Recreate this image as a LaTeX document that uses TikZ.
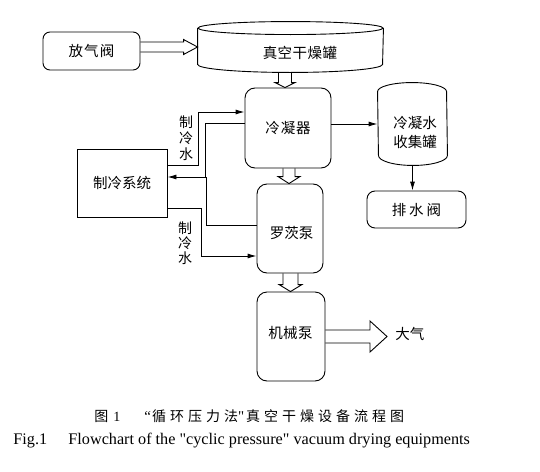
\documentclass[tikz,border=0pt]{standalone}
\usepackage{fontspec}
\setmainfont{Liberation Serif}[Ligatures=TeXOff]
\newfontfamily\cjk{Noto Sans CJK SC}
\usetikzlibrary{calc,arrows.meta}
\newcommand\ls[2]{\def\lsp{#1}\lsloop#2\relax\unskip}
\def\lsloop#1{\ifx\relax#1\else#1\hspace{\lsp}\expandafter\lsloop\fi}
\begin{document}
\begin{tikzpicture}[x=1pt,y=1pt,line width=0.9pt,
  box/.style={draw,rounded corners=10pt,inner sep=0pt},
  lab/.style={font=\cjk\fontsize{14.5}{19}\selectfont,inner sep=0pt},
  arr/.style={-{Latex[length=9pt,width=5pt]}},
  blk/.style n args={3}{to path={
    let \p1=(\tikztostart), \p2=(\tikztotarget),
        \n1={atan2(\y2-\y1,\x2-\x1)}, \n2={veclen(\x2-\x1,\y2-\y1)} in
    [shift={(\p1)},rotate=\n1]
    (0,-#1) -- (\n2-#3,-#1) -- (\n2-#3,-#2) -- (\n2,0) -- (\n2-#3,#2) -- (\n2-#3,#1) -- (0,#1)}}]
\useasboundingbox (0,0) rectangle (540,-471);
% boxes
\node[box,rounded corners=7pt,minimum width=97,minimum height=38,lab] (valve) at (91.5,-51) {\ls{1.2pt}{放气阀}};
\node[minimum width=185,minimum height=50,inner sep=0pt] (tank) at (290.5,-47) {};
\draw ($(tank.north)+(0,-6.5)$) ellipse [x radius=92.5,y radius=6.5];
\draw ($(tank.north west)+(0,-6.5)$) -- ($(tank.south west)+(0,8)$)
  arc[start angle=180,end angle=360,x radius=92.5,y radius=8] -- ($(tank.north east)+(0,-6.5)$);
\node[lab] (tanklab) at (300,-53) {\ls{0.5pt}{真空干燥罐}};
\node[box,minimum width=86,minimum height=80,lab] (cond) at (288,-128) {\ls{0.8pt}{冷凝器}};
\node[minimum width=69,minimum height=82,inner sep=0pt] (coll) at (412.5,-124) {};
\draw ($(coll.north west)+(0,-9)$) arc[start angle=180,end angle=0,x radius=34.5,y radius=9]
  -- ($(coll.south east)+(0,10)$) arc[start angle=0,end angle=-180,x radius=34.5,y radius=10] -- cycle;
\node[lab,align=center] (colllab) at (415,-132.5) {冷凝水\\收集罐};
\node[box,rounded corners=8pt,minimum width=99,minimum height=37,lab] (drain) at (416.5,-209.5) {\ls{3pt}{排水阀}};
\node[draw,minimum width=90,minimum height=68,lab] (refrig) at (122,-183) {制冷系统};
\node[box,minimum width=66,minimum height=89] (roots) at (290,-228.5) {};
\node[lab] (rootslab) at (291.5,-233) {罗茨泵};
\node[box,minimum width=68,minimum height=89] (mech) at (291,-336.5) {};
\node[lab] (mechlab) at (290.5,-333) {\ls{0.5pt}{机械泵}};
\node[lab,anchor=west] (air) at (395,-334) {大气};
\node[lab,align=center,font=\cjk\fontsize{14}{16}\selectfont] (w1) at (186,-138) {制\\冷\\水};
\node[lab,align=center,font=\cjk\fontsize{14}{15}\selectfont] (w2) at (185,-243) {制\\冷\\水};
% block arrows
\coordinate (a0) at (valve.east |- tank.west);
\draw[blk={5}{7.5}{14}] (a0) to (tank.west);
\coordinate (a1) at ($(tank.south)+(-5.5,0)$);
\coordinate (a1e) at (a1 |- cond.north);
\draw[blk={6.5}{10}{5}] (a1) to (a1e);
\coordinate (a2) at ($(cond.south)+(1,0)$);
\coordinate (a2e) at (a2 |- roots.north);
\draw[blk={6}{11}{7}] (a2) to (a2e);
\coordinate (a3) at ($(roots.south)+(0.5,0)$);
\coordinate (a3e) at (a3 |- mech.north);
\draw[blk={7.5}{11.5}{7}] (a3) to (a3e);
\coordinate (a4e) at ($(mech.east -| air.west)+(-8,0)$);
\draw[blk={6.5}{15.5}{17}] (mech.east) to (a4e);
% thin arrows
\draw[arr] (coll.west -| cond.east) -- (coll.west);
\draw[arr] (coll.south) -- (coll.south |- drain.north);
\draw[arr] ($(refrig.east)+(0,18)$) -- ++(31,0) |- ($(cond.west)+(0,16)$);
\draw[arr] ($(cond.west)+(0,5)$) -- ++(-39,0) |- ($(refrig.east)+(0,6)$);
\draw ($(roots.west)+(0,3.5)$) -| ($(refrig.east)+(39,6)$);
\draw[arr] ($(refrig.east)+(0,-25)$) -- ++(33.5,0) |- ($(roots.west)+(0,-27.5)$);
% captions
\node[font=\cjk\fontsize{14}{14}\selectfont,anchor=west,inner sep=0pt] (cap1a) at (94,-416) {图\hspace{5pt}{\rmfamily 1}};
\node[font=\cjk\fontsize{14}{14}\selectfont,anchor=west,inner sep=0pt] (cap1b) at (144,-416) {{\rmfamily\fontsize{15}{15}\selectfont “}\hspace{1pt}\ls{4pt}{循环压力法}{\rmfamily\fontsize{15}{15}\selectfont"}\hspace{2pt}\ls{4pt}{真空干燥设备流程图}};
\node[font=\fontsize{16.2}{16.2}\selectfont,anchor=base west,inner sep=0pt] (cap2a) at (13,-444) {Fig.1};
\node[font=\fontsize{16.2}{16.2}\selectfont,anchor=base west,inner sep=0pt] (cap2b) at (68,-444) {Flowchart of the "cyclic pressure" vacuum drying equipments};
\end{tikzpicture}
\end{document}
